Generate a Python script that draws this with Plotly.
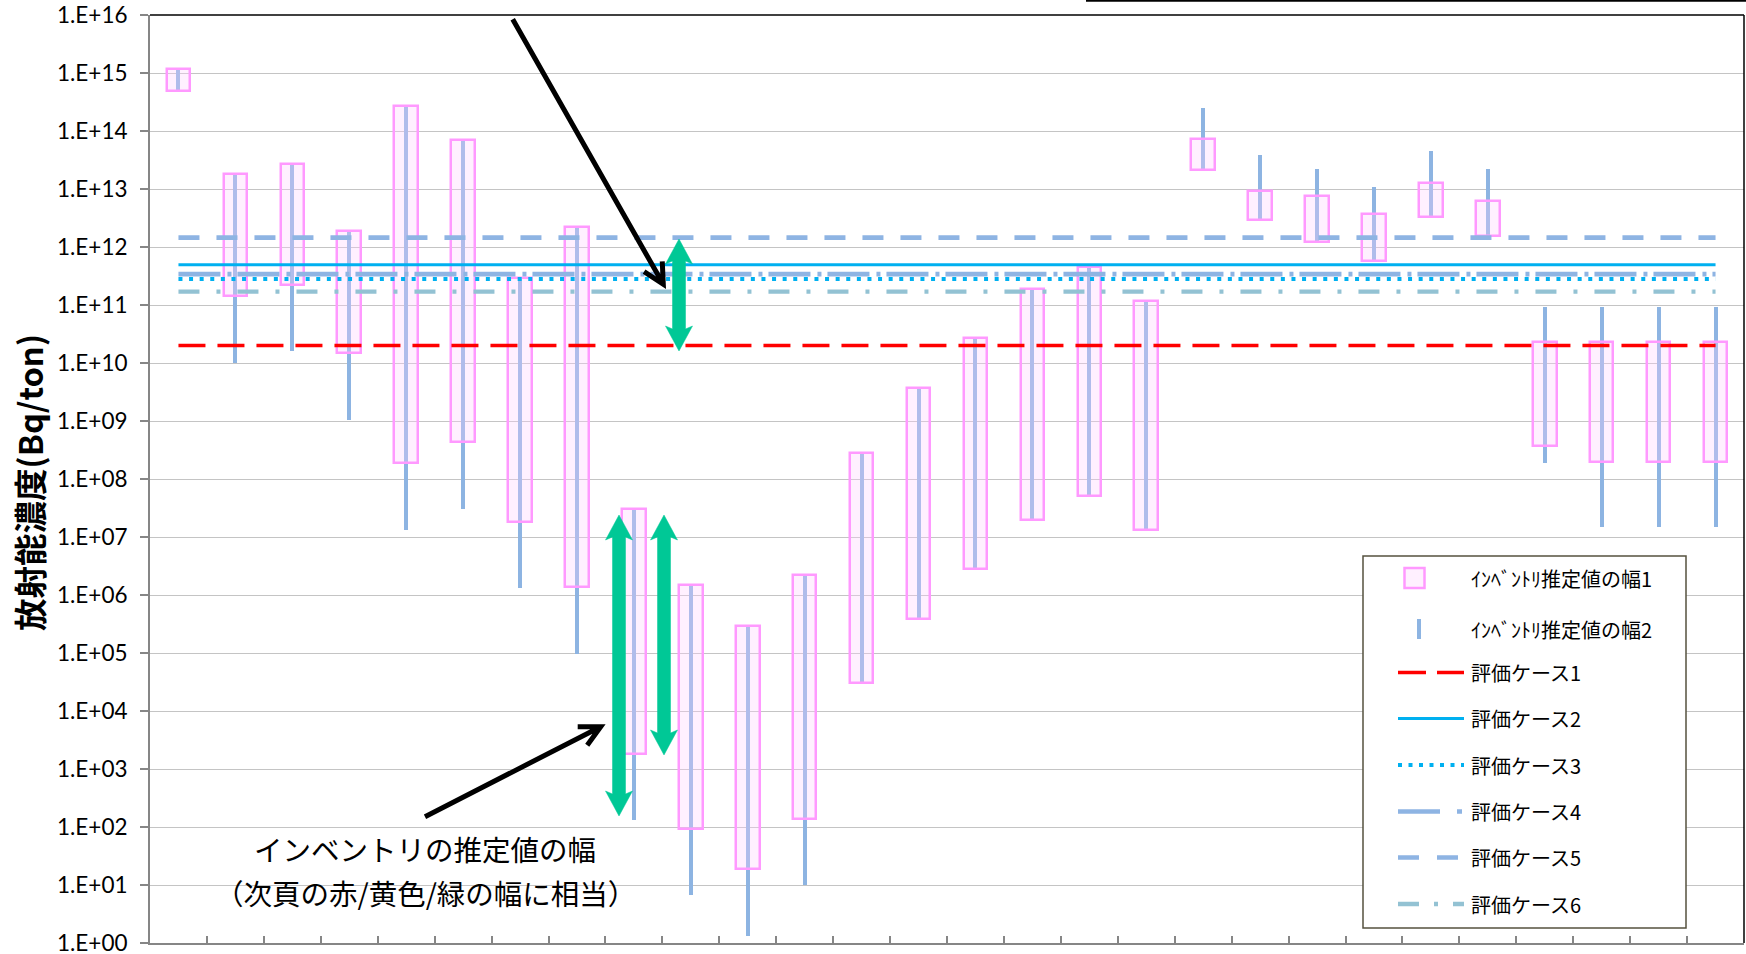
import math
import plotly.graph_objects as go

# ---------------- data ----------------
categories = ["1", "2", "3", "4", "5", "6", "7", "8", "9", "10", "11", "12", "13", "14",
              "15", "16", "17", "18", "19", "20", "21", "22", "23", "24", "25", "26", "27", "28"]

# range 1 (pink boxes)
box_high = [1.17e15, 1.82e13, 2.75e13, 1.9e12, 2.75e14, 6.9e13, 2.95e11, 2.24e12, 3.0e7, 1.48e6,
            2.95e5, 2.24e6, 2.82e8, 3.7e9, 2.7e10, 1.86e11, 4.6e11, 1.17e11, 7.2e13, 9.3e12,
            7.6e12, 3.7e12, 1.26e13, 6.2e12, 2.3e10, 2.3e10, 2.3e10, 2.3e10]
box_low = [4.8e14, 1.41e11, 2.19e11, 1.51e10, 1.86e8, 4.4e8, 1.82e7, 1.38e6, 1.82e3, 91,
           18.6, 138, 3.0e4, 3.9e5, 2.8e6, 2.0e7, 5.1e7, 1.32e7, 2.14e13, 2.95e12,
           1.23e12, 5.75e11, 3.24e12, 1.55e12, 3.7e8, 1.95e8, 1.95e8, 1.95e8]

# range 2 (blue lines)
line_high = [1.17e15, 1.82e13, 2.75e13, 1.9e12, 2.75e14, 6.9e13, 2.95e11, 2.24e12, 3.0e7, 1.48e6,
             2.95e5, 2.24e6, 2.82e8, 3.7e9, 2.7e10, 1.86e11, 4.8e11, 1.17e11, 2.45e14, 3.8e13,
             2.19e13, 1.07e13, 4.6e13, 2.19e13, 9.3e10, 9.3e10, 9.3e10, 9.3e10]
line_low = [4.8e14, 1.0e10, 1.58e10, 1.05e9, 1.32e7, 3.1e7, 1.32e6, 9.8e4, 132, 6.8,
            1.32, 10, 3.0e4, 3.9e5, 2.8e6, 2.0e7, 5.1e7, 1.32e7, 2.14e13, 2.95e12,
            1.23e12, 5.75e11, 3.24e12, 1.55e12, 1.86e8, 1.51e7, 1.51e7, 1.51e7]

case_names = ["評価ケース1", "評価ケース2", "評価ケース3", "評価ケース4", "評価ケース5", "評価ケース6"]
case_values = [2.0e10, 4.95e11, 2.8e11, 3.4e11, 1.45e12, 1.7e11]

series_names = ["ｲﾝﾍﾞﾝﾄﾘ推定値の幅1", "ｲﾝﾍﾞﾝﾄﾘ推定値の幅2"]

y_tick_values = [1e0, 1e1, 1e2, 1e3, 1e4, 1e5, 1e6, 1e7, 1e8, 1e9, 1e10, 1e11, 1e12,
                 1e13, 1e14, 1e15, 1e16]
y_tick_labels = ["1.E+00", "1.E+01", "1.E+02", "1.E+03", "1.E+04", "1.E+05", "1.E+06",
                 "1.E+07", "1.E+08", "1.E+09", "1.E+10", "1.E+11", "1.E+12", "1.E+13",
                 "1.E+14", "1.E+15", "1.E+16"]

y_title = "放射能濃度(Bq/ton)"
note_line1 = "インベントリの推定値の幅"
note_line2 = "（次頁の赤/黄色/緑の幅に相当）"

# ---------------- styles ----------------
W, H = 1746, 954
L, R, T, B = 150, 2, 15, 11
PW, PH = W - L - R, H - T - B

JP = "Noto Sans CJK JP"
BOX_FILL = "rgba(255,205,255,0.31)"
BOX_LINE = "#FF99FF"
BLUE = "#8DB4E2"
GREEN = "#00C896"

case_styles = [
    dict(color="#FF0000", width=3.5, dash="27px,12px"),
    dict(color="#00B0F0", width=3, dash="solid"),
    dict(color="#00B0F0", width=4, dash="4px,6.6px"),
    dict(color="#8EB4E3", width=4.7, dash="42px,7px,4px,6px"),
    dict(color="#8EB4E3", width=4.7, dash="21px,17px"),
    dict(color="#93C2D3", width=4.3, dash="21px,17px,4px,17px"),
]
legend_dashes = ["28px,11px", "solid", "4px,6.5px", "42px,17px,5px,17px", "21px,18px",
                 "21px,15px,4px,15px"]


def px(x):
    return (x - L) / PW


def py(y):
    return (H - B - y) / PH


fig = go.Figure()

# blue range-2 lines
fig.add_trace(go.Bar(
    x=categories, y=[h - l for h, l in zip(line_high, line_low)], base=line_low,
    width=0.07, marker=dict(color=BLUE, line=dict(width=0)),
    name=series_names[1], showlegend=False, hoverinfo="skip"))

# pink range-1 boxes
fig.add_trace(go.Bar(
    x=categories, y=[h - l for h, l in zip(box_high, box_low)], base=box_low,
    width=0.415, marker=dict(color=BOX_FILL, line=dict(color=BOX_LINE, width=2.5)),
    name=series_names[0], showlegend=False, hoverinfo="skip"))

# evaluation case lines
for name, val, st in zip(case_names, case_values, case_styles):
    fig.add_trace(go.Scatter(
        x=[categories[0], categories[-1]], y=[val, val], mode="lines",
        line=dict(color=st["color"], width=st["width"], dash=st["dash"]),
        name=name, showlegend=False, hoverinfo="skip"))

shapes = []
annotations = []

# frame top / right (black), extra line at very top
shapes.append(dict(type="line", xref="paper", yref="paper", x0=0, x1=1, y0=1, y1=1,
                   line=dict(color="black", width=1.5)))
shapes.append(dict(type="line", xref="paper", yref="paper", x0=1, x1=1, y0=0, y1=1,
                   line=dict(color="black", width=1.5)))
shapes.append(dict(type="line", xref="paper", yref="paper", x0=px(1086), x1=px(1747),
                   y0=py(0.8), y1=py(0.8), line=dict(color="black", width=2)))


# green double-headed arrows
def double_arrow(cx, top, bot, sw=6.5, hw=13.5, hl=25, inset=22):
    pts = [(cx, top), (cx + hw, top + hl), (cx + sw, top + inset), (cx + sw, bot - inset),
           (cx + hw, bot - hl), (cx, bot), (cx - hw, bot - hl), (cx - sw, bot - inset),
           (cx - sw, top + inset), (cx - hw, top + hl)]
    d = "M " + " L ".join(f"{px(a):.5f},{py(b):.5f}" for a, b in pts) + " Z"
    return dict(type="path", xref="paper", yref="paper", path=d,
                fillcolor=GREEN, line=dict(color=GREEN, width=0.5))


shapes.append(double_arrow(619, 515, 816))
shapes.append(double_arrow(664, 515, 755))
shapes.append(double_arrow(679, 239, 351))


# black arrows
def black_arrow(x0, y0, x1, y1, hl=23, ang=27):
    dx, dy = x0 - x1, y0 - y1
    n = math.hypot(dx, dy)
    ux, uy = dx / n, dy / n
    pts = []
    for s in (1, -1):
        a = math.radians(ang * s)
        rx = ux * math.cos(a) - uy * math.sin(a)
        ry = ux * math.sin(a) + uy * math.cos(a)
        pts.append((x1 + hl * rx, y1 + hl * ry))
    d = (f"M {px(x0):.5f},{py(y0):.5f} L {px(x1):.5f},{py(y1):.5f} "
         f"M {px(pts[0][0]):.5f},{py(pts[0][1]):.5f} L {px(x1):.5f},{py(y1):.5f} "
         f"L {px(pts[1][0]):.5f},{py(pts[1][1]):.5f}")
    return dict(type="path", xref="paper", yref="paper", path=d,
                line=dict(color="black", width=5))


shapes.append(black_arrow(512.7, 19.3, 663.3, 284.3))
shapes.append(black_arrow(425, 816.7, 600.7, 726.7))

# note text
annotations.append(dict(text=note_line1, xref="paper", yref="paper", x=px(425), y=py(848),
                        xanchor="center", yanchor="middle", showarrow=False,
                        font=dict(family=JP, size=28.5, color="black")))
annotations.append(dict(text=note_line2, xref="paper", yref="paper", x=px(425), y=py(892),
                        xanchor="center", yanchor="middle", showarrow=False,
                        font=dict(family=JP, size=28.5, color="black")))

# y-axis title
annotations.append(dict(text="<b>" + y_title + "</b>", xref="paper", yref="paper",
                        x=px(28), y=py(482), xanchor="center", yanchor="middle",
                        textangle=-90, showarrow=False,
                        font=dict(family=JP, size=32.5, color="black")))

# ---------------- legend (drawn) ----------------
shapes.append(dict(type="rect", xref="paper", yref="paper", x0=px(1363), x1=px(1686),
                   y0=py(928), y1=py(556), fillcolor="white",
                   line=dict(color="#55513F", width=1.5)))
item_y = [578, 629, 672.5, 718.5, 765, 811.5, 857.5, 904]
labels = series_names + case_names
# item 1: pink square
shapes.append(dict(type="rect", xref="paper", yref="paper", x0=px(1404.5), x1=px(1424.5),
                   y0=py(item_y[0] + 10), y1=py(item_y[0] - 10), fillcolor=BOX_FILL,
                   line=dict(color=BOX_LINE, width=2.5)))
# item 2: blue vertical line
shapes.append(dict(type="line", xref="paper", yref="paper", x0=px(1419), x1=px(1419),
                   y0=py(item_y[1] + 10), y1=py(item_y[1] - 10),
                   line=dict(color=BLUE, width=4)))
for i, (st, dsh) in enumerate(zip(case_styles, legend_dashes)):
    yy = item_y[i + 2]
    shapes.append(dict(type="line", xref="paper", yref="paper", x0=px(1398), x1=px(1464),
                       y0=py(yy), y1=py(yy),
                       line=dict(color=st["color"], width=st["width"], dash=dsh)))
for lab, yy in zip(labels, item_y):
    annotations.append(dict(text=lab, xref="paper", yref="paper", x=px(1469), y=py(yy),
                            xanchor="left", yanchor="middle", showarrow=False,
                            font=dict(family=JP, size=20, color="black")))

fig.update_layout(
    width=W, height=H,
    margin=dict(l=L, r=R, t=T, b=B, pad=0, autoexpand=False),
    paper_bgcolor="white", plot_bgcolor="white",
    barmode="overlay", bargap=0, showlegend=False,
    shapes=shapes, annotations=annotations,
    xaxis=dict(type="category", categoryorder="array", categoryarray=categories,
               range=[-0.5, 27.5], showticklabels=False, showgrid=False,
               ticks="inside", tickson="boundaries", ticklen=7, tickwidth=1.5,
               tickcolor="#868686", showline=True, linecolor="#868686", linewidth=2,
               zeroline=False, fixedrange=True, automargin=False),
    yaxis=dict(type="log", range=[0, 16], tickvals=y_tick_values, ticktext=y_tick_labels,
               ticks="outside", ticklen=8, tickwidth=1.5, tickcolor="#868686",
               ticklabelstandoff=8, ticklabeloverflow="allow",
               tickfont=dict(family="Lato", size=22.5, color="black"),
               showgrid=True, gridcolor="#C4C4C4", gridwidth=1.3,
               showline=True, linecolor="#868686", linewidth=2, zeroline=False,
               fixedrange=True, automargin=False),
)

fig.write_html("out.html", config={"displayModeBar": False},
               post_script="document.body.style.margin='0px';document.body.style.overflow='hidden';")
